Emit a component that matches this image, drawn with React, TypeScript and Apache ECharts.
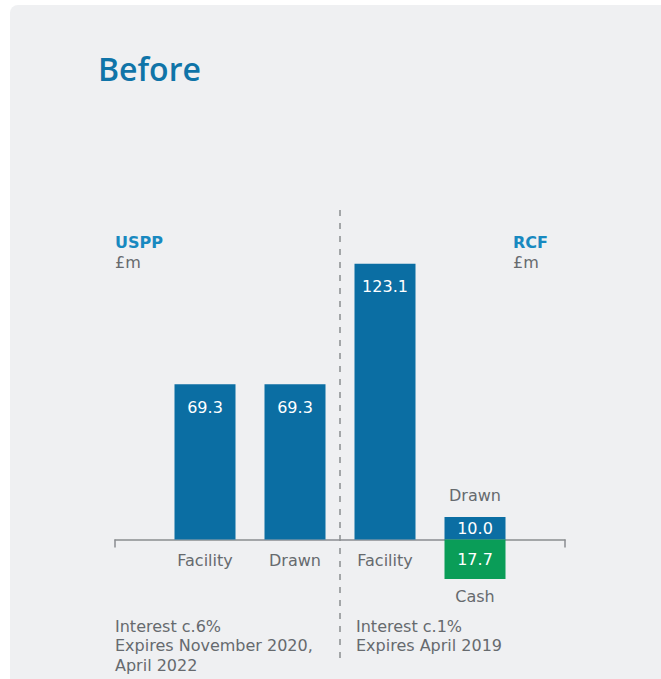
import React, { useEffect, useRef } from "react";
import * as echarts from "echarts";

const categories = ["", "Facility", "Drawn", "Facility", "", ""];
const facilityDrawn = [null, 69.3, 69.3, 123.1, 10.0, null];
const cashValues = [null, null, null, null, -17.7, null];
const topNotes = [null, null, null, null, "Drawn", null];
const bottomNotes = [null, null, null, null, "Cash", null];
const title = "Before";
const leftHeader = "USPP";
const rightHeader = "RCF";
const unit = "£m";
const leftNote = ["Interest c.6%", "Expires November 2020,", "April 2022"];
const rightNote = ["Interest c.1%", "Expires April 2019"];

const TFONT = "'Open Sans', sans-serif";
const FONT = "'DejaVu Sans', sans-serif";
const BLUE = "#0b6ea3";
const GREEN = "#0a9d58";
const GREY = "#666a6e";
const FS = 16;

export default function App() {
  const ref = useRef<HTMLDivElement>(null);
  useEffect(() => {
    if (!ref.current) return;
    const chart = echarts.init(ref.current, null, { renderer: "svg" });
    const blueData = facilityDrawn.map((v) => {
      if (v === null) return "-";
      const tall = v > 30;
      return {
        value: v,
        label: tall
          ? { position: "insideTop", distance: 15 }
          : { position: "inside" },
      };
    });
    const noteLines = (lines: string[], left: number) =>
      lines.map((t, i) => ({
        type: "text",
        left,
        top: 618 + i * 19.5,
        style: { text: t, fill: GREY, fontFamily: FONT, fontSize: FS },
      }));
    chart.setOption({
      animation: false,
      backgroundColor: "transparent",
      textStyle: { fontFamily: FONT },
      grid: { left: 115, right: 96, top: 226, bottom: 50, containLabel: false },
      xAxis: {
        type: "category",
        data: categories,
        boundaryGap: false,
        axisLine: { show: true, onZero: true, lineStyle: { color: "#8a8d90", width: 1.5 } },
        axisTick: {
          show: true,
          inside: false,
          length: 8,
          interval: (i: number) => i === 0 || i === categories.length - 1,
          lineStyle: { color: "#8a8d90", width: 1.5 },
        },
        axisLabel: {
          interval: 0,
          margin: -77,
          color: GREY,
          fontSize: FS,
          fontFamily: FONT,
        },
        splitLine: { show: false },
      },
      yAxis: { type: "value", min: -40, max: 140, show: false, splitLine: { show: false } },
      series: [
        {
          type: "bar",
          stack: "a",
          barWidth: 61,
          data: blueData,
          itemStyle: { color: BLUE },
          label: {
            show: true,
            fontFamily: FONT,
            fontSize: FS,
            color: "#fff",
            formatter: (p: any) => Number(p.value).toFixed(1),
          },
        },
        {
          type: "bar",
          stack: "a",
          barWidth: 61,
          data: cashValues.map((v) => (v === null ? "-" : v)),
          itemStyle: { color: GREEN },
          label: {
            show: true,
            position: "inside",
            fontFamily: FONT,
            fontSize: FS,
            color: "#fff",
            formatter: (p: any) => Math.abs(Number(p.value)).toFixed(1),
          },
        },
        {
          type: "bar",
          barWidth: 61,
          barGap: "-100%",
          data: facilityDrawn.map((v, i) => (topNotes[i] && v !== null ? v : "-")),
          itemStyle: { color: "rgba(0,0,0,0)" },
          silent: true,
          label: {
            show: true,
            position: "top",
            distance: 14,
            fontFamily: FONT,
            fontSize: FS,
            color: GREY,
            formatter: (p: any) => topNotes[p.dataIndex] || "",
          },
        },
        {
          type: "bar",
          barWidth: 61,
          barGap: "-100%",
          data: cashValues.map((v, i) => (bottomNotes[i] && v !== null ? v : "-")),
          itemStyle: { color: "rgba(0,0,0,0)" },
          silent: true,
          label: {
            show: true,
            position: "bottom",
            distance: 9,
            fontFamily: FONT,
            fontSize: FS,
            color: GREY,
            formatter: (p: any) => bottomNotes[p.dataIndex] || "",
          },
        },
      ],
      graphic: [
        {
          type: "text",
          left: 98,
          top: 52,
          style: { text: title, fill: "#0f74a8", fontFamily: TFONT, fontSize: 32, fontWeight: 600 },
        },
        {
          type: "text",
          left: 115,
          top: 234,
          style: { text: leftHeader, fill: "#1889c0", fontFamily: FONT, fontSize: FS, fontWeight: 700 },
        },
        {
          type: "text",
          left: 115,
          top: 254,
          style: { text: unit, fill: GREY, fontFamily: FONT, fontSize: FS },
        },
        {
          type: "text",
          left: 513,
          top: 234,
          style: { text: rightHeader, fill: "#1889c0", fontFamily: FONT, fontSize: FS, fontWeight: 700 },
        },
        {
          type: "text",
          left: 513,
          top: 254,
          style: { text: unit, fill: GREY, fontFamily: FONT, fontSize: FS },
        },
        {
          type: "line",
          shape: { x1: 340, y1: 210, x2: 340, y2: 660 },
          style: { stroke: "#8a8d90", lineWidth: 1.5, lineDash: [6, 7] },
        },
        ...noteLines(leftNote, 115),
        ...noteLines(rightNote, 356),
      ],
    });
    return () => chart.dispose();
  }, []);
  return (
    <div style={{ position: "fixed", left: 0, top: 0, width: 661, height: 679, background: "#fff", overflow: "hidden" }}>
      <div
        style={{
          position: "absolute",
          left: 10,
          top: 5,
          width: 700,
          height: 720,
          background: "#eff0f2",
          borderRadius: 8,
        }}
      />
      <div ref={ref} style={{ position: "absolute", left: 0, top: 0, width: 661, height: 679 }} />
    </div>
  );
}
